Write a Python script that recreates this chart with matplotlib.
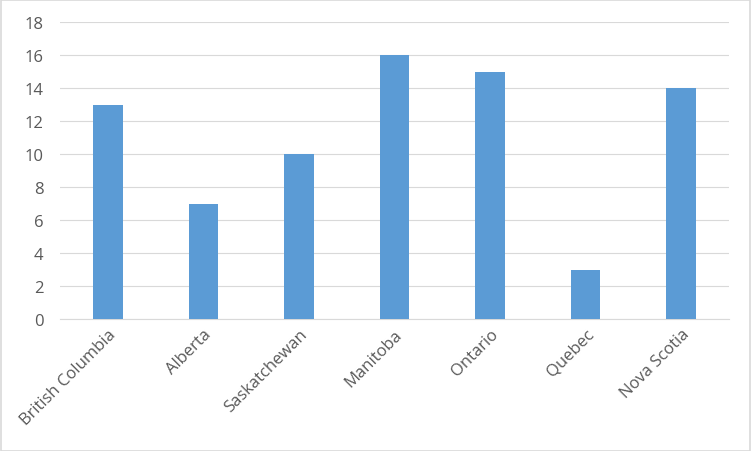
import matplotlib
matplotlib.use("Agg")
import matplotlib.pyplot as plt
from matplotlib.patches import Rectangle

# provinces and counts
provinces = ["British Columbia", "Alberta", "Saskatchewan", "Manitoba",
             "Ontario", "Quebec", "Nova Scotia"]
counts = [13, 7, 10, 16, 15, 3, 14]
yticks = [0, 2, 4, 6, 8, 10, 12, 14, 16, 18]

plt.rcParams['font.family'] = ['Open Sans', 'DejaVu Sans']

fig = plt.figure(figsize=(7.52, 4.52), dpi=100)
ax = fig.add_axes([0.0798, 0.292, 0.8896, 0.6564])

x = range(len(provinces))
ax.bar(x, counts, width=0.31, color='#5B9BD5', zorder=3)

ax.set_xlim(-0.5, len(provinces) - 0.5)
ax.set_ylim(0, 18)
ax.set_yticks(yticks)
ax.set_xticks(list(x))
ax.set_xticklabels(provinces, rotation=45, ha='right', rotation_mode='anchor')

ax.grid(axis='y', color='#D9D9D9', linewidth=0.8, zorder=0)
for s in ['top', 'right', 'left']:
    ax.spines[s].set_visible(False)
ax.spines['bottom'].set_color('#D9D9D9')
ax.tick_params(axis='both', length=0, colors='#595959', labelsize=12)
ax.tick_params(axis='y', pad=12)
ax.tick_params(axis='x', pad=5)

# light border round the whole picture
fig.patches.append(Rectangle((0.001, 0.001), 0.997, 0.996, transform=fig.transFigure,
                             fill=False, edgecolor='#D9D9D9', linewidth=1.2))

fig.savefig('out.png', dpi=100)
